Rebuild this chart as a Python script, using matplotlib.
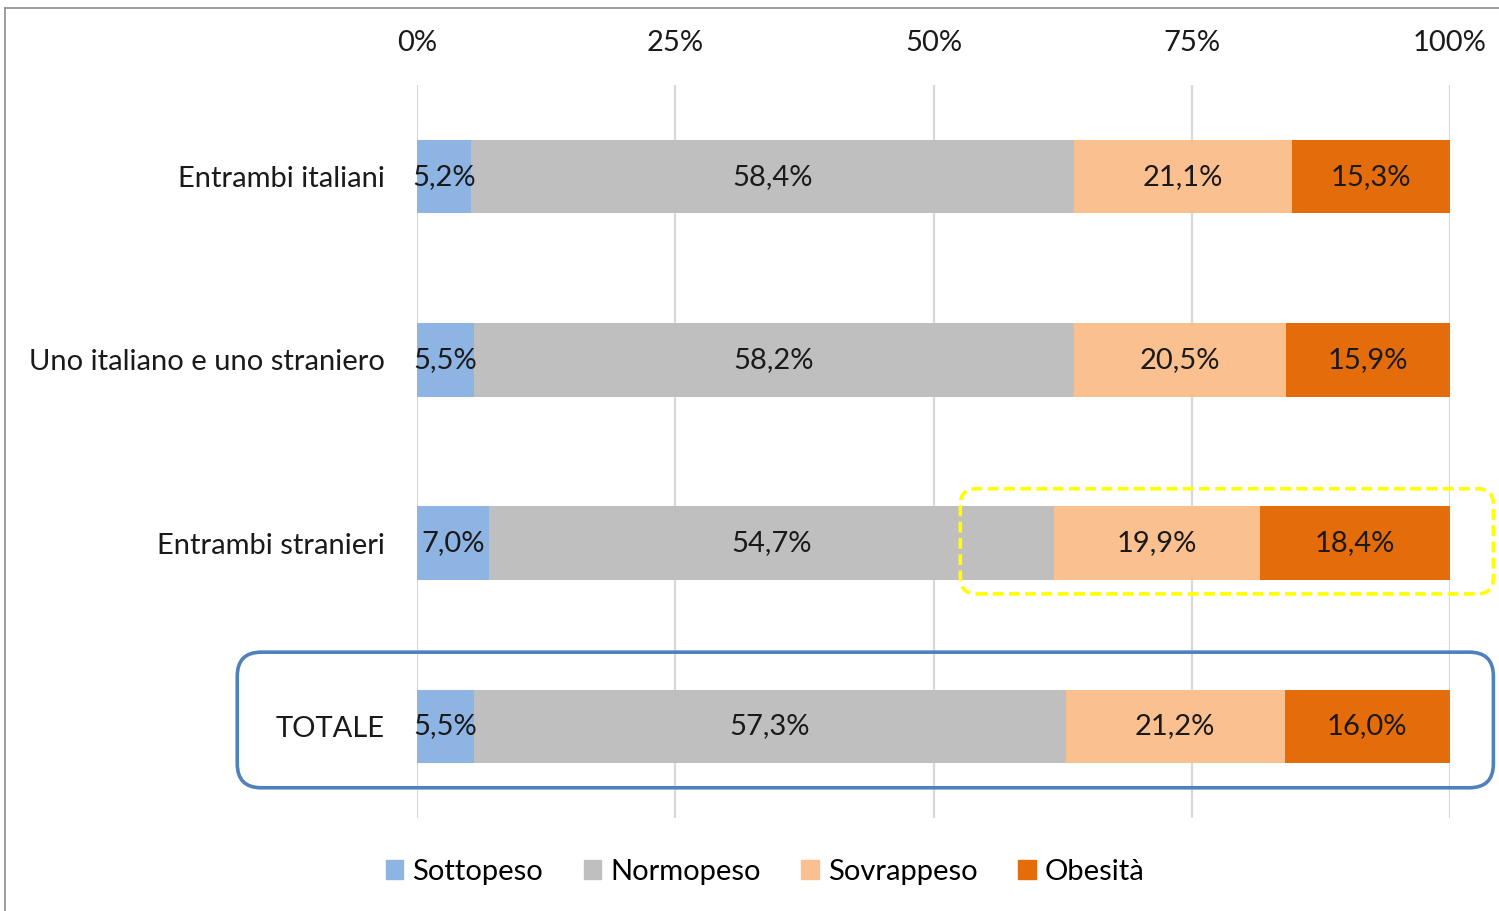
import matplotlib
matplotlib.use('Agg')
import matplotlib.pyplot as plt
from matplotlib.patches import FancyBboxPatch
from matplotlib.transforms import IdentityTransform
from matplotlib.lines import Line2D

plt.rcParams['font.family'] = ['Lato', 'DejaVu Sans']

# dati
categorie = ['Entrambi italiani', 'Uno italiano e uno straniero', 'Entrambi stranieri', 'TOTALE']
serie = ['Sottopeso', 'Normopeso', 'Sovrappeso', 'Obesità']
sottopeso = [5.2, 5.5, 7.0, 5.5]
normopeso = [58.4, 58.2, 54.7, 57.3]
sovrappeso = [21.1, 20.5, 19.9, 21.2]
obesita = [15.3, 15.9, 18.4, 16.0]
tick_vals = [0, 25, 50, 75, 100]
tick_labels = ['0%', '25%', '50%', '75%', '100%']

colori = ['#8EB4E3', '#BFBFBF', '#FAC090', '#E46C0A']
valori = [sottopeso, normopeso, sovrappeso, obesita]

FS = 21
W, H = 1499, 911
fig = plt.figure(figsize=(W / 100, H / 100), dpi=100)
ax = fig.add_axes([417 / W, 1 - 818 / H, (1450 - 417) / W, (818 - 85) / H])

totali = [sum(v[i] for v in valori) for i in range(len(categorie))]
left = [0.0] * len(categorie)
for nome, vals, col in zip(serie, valori, colori):
    larg = [vals[i] / totali[i] * 100 for i in range(len(categorie))]
    ax.barh(range(len(categorie)), larg, left=left, height=0.4, color=col, label=nome, zorder=2)
    for i in range(len(categorie)):
        ax.text(left[i] + larg[i] / 2, i, f'{vals[i]:.1f}%'.replace('.', ','),
                ha='center', va='center', fontsize=FS, color='#1a1a1a', zorder=3)
    left = [left[i] + larg[i] for i in range(len(categorie))]

ax.set_ylim(len(categorie) - 0.5, -0.5)
ax.set_xlim(0, 100)
ax.set_yticks(range(len(categorie)))
ax.set_yticklabels(categorie, fontsize=FS, color='#1a1a1a')
ax.xaxis.tick_top()
ax.set_xticks(tick_vals)
ax.set_xticklabels(tick_labels, fontsize=FS, color='#1a1a1a')
ax.tick_params(axis='both', length=0)
ax.tick_params(axis='x', pad=21)
ax.tick_params(axis='y', pad=23)
ax.grid(axis='x', color='#D9D9D9', linewidth=1.6, zorder=0)
ax.set_axisbelow(True)
for s in ax.spines.values():
    s.set_visible(False)

# riquadri evidenziati (coordinate dati -> display)
def riquadro(x0, x1, y0, y1, colore, ls, r):
    p0 = ax.transData.transform((x0, y1))
    p1 = ax.transData.transform((x1, y0))
    box = FancyBboxPatch((p0[0] + r, p0[1] + r), p1[0] - p0[0] - 2 * r, p1[1] - p0[1] - 2 * r,
                         boxstyle=f'round,pad={r}', transform=IdentityTransform(),
                         fill=False, edgecolor=colore, linewidth=2.6, linestyle=ls,
                         clip_on=False, zorder=5)
    fig.add_artist(box)

riquadro(52.6, 104.2, 1.99 - 0.287, 1.99 + 0.287, '#FFFF00', (0, (3, 1.5)), 16)
riquadro(-17.4, 104.2, 2.965 - 0.37, 2.965 + 0.37, '#4F81BD', '-', 24)

# legenda
handles = [plt.Rectangle((0, 0), 1, 1, color=c) for c in colori]
fig.legend(handles, serie, loc='center', bbox_to_anchor=(765 / W, 1 - 872 / H), ncol=4,
           frameon=False, fontsize=FS, handlelength=0.6, handleheight=0.6,
           handletextpad=0.3, columnspacing=1.4)

# bordo della figura
fig.add_artist(Line2D([5 / W, 5 / W], [0, 1 - 8 / H], transform=fig.transFigure, color='#8c8c8c', linewidth=1.2))
fig.add_artist(Line2D([5 / W, 1], [1 - 8 / H, 1 - 8 / H], transform=fig.transFigure, color='#8c8c8c', linewidth=1.2))

fig.savefig('out.png', dpi=100, facecolor='white')
